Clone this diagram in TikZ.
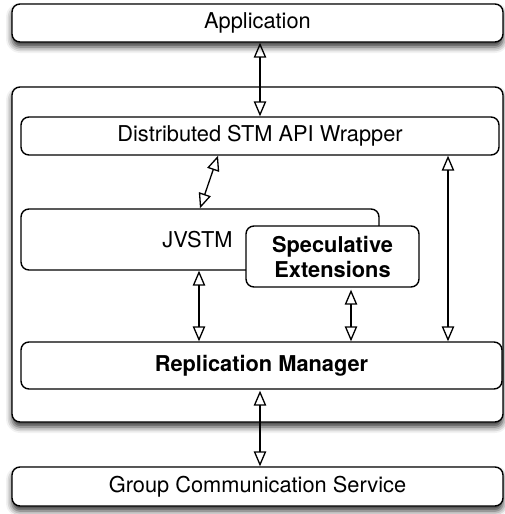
\documentclass[tikz,border=0pt]{standalone}
\usepackage{fontspec}
\setmainfont{TeX Gyre Heros}
\usetikzlibrary{arrows.meta,shadows.blur}
\begin{document}
\begin{tikzpicture}[x=1pt,y=-1pt,
  box/.style={draw, line width=1.4pt, rounded corners=8pt, fill=white, inner sep=0pt,
    font=\fontsize{21.8}{25}\selectfont, align=center},
  shbox/.style={box, blur shadow={shadow xshift=0pt, shadow yshift=-5pt, shadow blur radius=6pt, shadow opacity=80}},
  biarrow/.style={line width=1.3pt, {Triangle[open,length=15pt,width=12.5pt]}-{Triangle[open,length=15pt,width=12.5pt]}}
]
\useasboundingbox (0,0) rectangle (504,514);
\node[shbox, minimum width=491pt, minimum height=38pt] (app) at (257.5,23) {Application};
\node[shbox, minimum width=491pt, minimum height=335pt] (cont) at (257.5,254.5) {};
\node[shbox, minimum width=491pt, minimum height=39pt] (gcs) at (257.5,486.5) {Group Communication Service};
\node[box, minimum width=478pt, minimum height=38pt] (wrap) at (260,136) {Distributed STM API Wrapper};
\node[box, minimum width=358pt, minimum height=61pt] (jvstm) at (200,239.5) {};
\node[font=\fontsize{21.8}{25}\selectfont] (jvlabel) at (197.5,239.5) {JVSTM};
\node[box, minimum width=173pt, minimum height=61pt, font=\fontsize{21.8}{25}\selectfont\bfseries] (spec) at (332.5,256.5) {Speculative\\Extensions};
\node[box, minimum width=481pt, minimum height=47pt, font=\fontsize{21.8}{25}\selectfont\bfseries] (rm) at (261.5,365.5) {Replication Manager};
\draw[biarrow] (app.south -| 260,0) -- (wrap.north -| 260,0);
\draw[biarrow] (wrap.south -| 218,0) -- (jvstm.north -| 200,0);
\draw[biarrow] (wrap.south -| 448,0) -- (rm.north -| 448,0);
\draw[biarrow] (jvstm.south -| 199,0) -- (rm.north -| 199,0);
\draw[biarrow] ([yshift=-2pt]spec.south -| 351,0) -- (rm.north -| 351,0);
\draw[biarrow] ([yshift=-1pt]rm.south -| 260,0) -- (gcs.north -| 260,0);
\end{tikzpicture}
\end{document}
